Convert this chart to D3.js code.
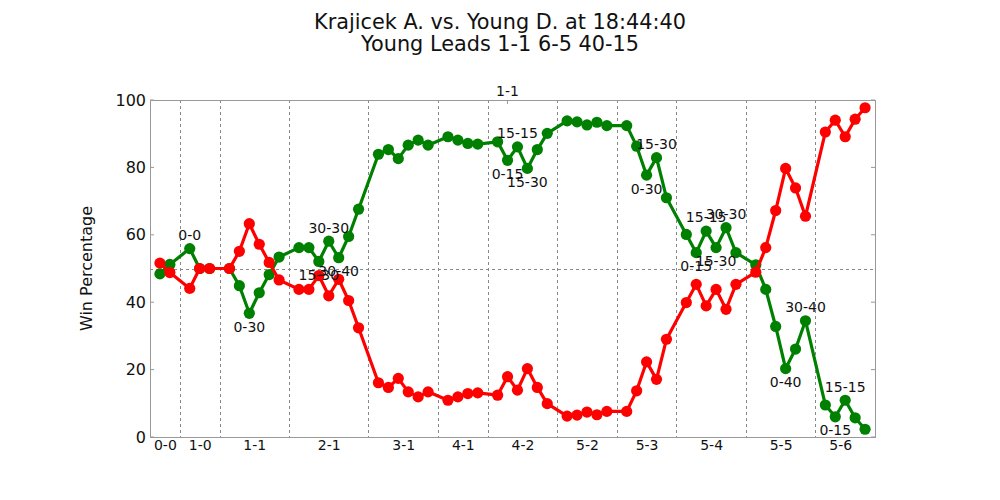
<!DOCTYPE html>
<html><head><meta charset="utf-8">
<script src="https://cdn.jsdelivr.net/npm/d3@7"></script>
<style>body{margin:0;background:#fff;} text{font-family:"DejaVu Sans",sans-serif;}</style>
</head><body><svg id="c" width="1000" height="500"></svg>
<script>
const titleLines = ["Krajicek A. vs. Young D. at 18:44:40", "Young Leads 1-1 6-5 40-15"];
const yLabel = "Win Percentage";
const pointIndex = [0,1,3,4,5,7,8,9,10,11,12,14,15,16,17,18,19,20,22,23,24,25,26,27,29,30,31,32,34,35,36,37,38,39,41,42,43,44,45,47,48,49,50,51,53,54,55,56,57,58,60,61,62,63,64,65,67,68,69,70,71];
const greenPct = [48.4,51.2,55.9,50,50,50,44.9,36.7,42.8,48.2,53.4,56.2,56.2,52.1,58.1,53.2,59.5,67.6,83.9,85.3,82.6,86.6,88.1,86.6,89.1,88.1,87.1,86.9,87.6,82.1,86.1,79.7,85.3,90.1,93.8,93.5,92.6,93.4,92.4,92.4,86.3,77.7,82.9,71,60.1,54.7,61.1,56.2,62.1,54.7,51.1,43.8,32.8,20.3,26.1,34.5,9.5,6.0,10.9,5.7,2.3];
const redPct = [51.6,48.8,44.1,50,50,50,55.1,63.3,57.2,51.8,46.6,43.8,43.8,47.9,41.9,46.8,40.5,32.4,16.1,14.7,17.4,13.4,11.9,13.4,10.9,11.9,12.9,13.1,12.4,17.9,13.9,20.3,14.7,9.9,6.2,6.5,7.4,6.6,7.6,7.6,13.7,22.3,17.1,29,39.9,45.3,38.9,43.8,37.9,45.3,48.9,56.2,67.2,79.7,73.9,65.5,90.5,94,89.1,94.3,97.7];
const gameBreaks = [2,6,13,21,28,33,40,46,52,59,66];
const gameLabels = ["0-0","1-0","1-1","2-1","3-1","4-1","4-2","5-2","5-3","5-4","5-5","5-6"];
const gameLabelPos = [0.5,4,9.5,17,24.5,30.5,36.5,43,49,55.5,62.5,68.5];
const yTicks = [0,20,40,60,80,100];
const setLabel = "1-1";
const setLabelPos = 35;
const annIndex = [3,9,17,16,18,36,35,37,50,49,55,57,54,56,65,63,69,68];
const annText = ["0-0","0-30","30-30","15-30","30-40","15-15","0-15","15-30","15-30","0-30","15-15","30-30","0-15","15-30","30-40","0-40","15-15","0-15"];
const annSide = [1,-1,1,-1,-1,1,-1,-1,1,-1,1,1,-1,-1,1,-1,1,-1];

const svg = d3.select("#c");
const L=150,R=875,T=100,B=437;
const x = d3.scaleLinear().domain([-1,72]).range([L,R]);
const y = d3.scaleLinear().domain([0,100]).range([B,T]);

svg.append("g").selectAll("text").data(titleLines).join("text")
  .attr("x",500).attr("y",(d,i)=>29+i*22).attr("text-anchor","middle")
  .attr("font-size",20.8).attr("fill","#111").text(d=>d);

const grid = svg.append("g").attr("stroke","#888").attr("stroke-width",1).attr("stroke-dasharray","3,3");
grid.selectAll("line.v").data(gameBreaks).join("line").attr("class","v")
  .attr("x1",d=>Math.round(x(d))+0.5).attr("x2",d=>Math.round(x(d))+0.5).attr("y1",T).attr("y2",B);
grid.append("line").attr("x1",L).attr("x2",R).attr("y1",Math.round(y(50))+0.5).attr("y2",Math.round(y(50))+0.5);

// frame
svg.append("rect").attr("x",L+0.5).attr("y",T+0.5).attr("width",R-L).attr("height",B-T)
  .attr("fill","none").attr("stroke","#999").attr("stroke-width",1);

// y axis
const ya = svg.append("g").attr("transform",`translate(${L},0)`)
  .call(d3.axisLeft(y).tickValues(yTicks).tickSize(0).tickPadding(4));
ya.select(".domain").remove();
ya.selectAll("text").attr("font-size",16).attr("fill","#111").attr("font-family","DejaVu Sans");
const yt = svg.append("g").attr("stroke","#999");
yt.selectAll("line.l").data(yTicks).join("line").attr("class","l")
  .attr("x1",L).attr("x2",L+4).attr("y1",d=>y(d)).attr("y2",d=>y(d));
yt.selectAll("line.r").data(yTicks).join("line").attr("class","r")
  .attr("x1",R-4).attr("x2",R).attr("y1",d=>y(d)).attr("y2",d=>y(d));

// x labels
const xa = svg.append("g").attr("transform",`translate(0,${B})`)
  .call(d3.axisBottom(x).tickValues(gameLabelPos).tickFormat((d,i)=>gameLabels[i]).tickSize(0).tickPadding(3));
xa.select(".domain").remove();
xa.selectAll("text").attr("font-size",14).attr("fill","#111").attr("font-family","DejaVu Sans");

// top set label
svg.append("line").attr("x1",x(setLabelPos)).attr("x2",x(setLabelPos)).attr("y1",T).attr("y2",T+4).attr("stroke","#999");
svg.append("text").attr("x",x(setLabelPos)).attr("y",T-4).attr("text-anchor","middle")
  .attr("font-size",14).attr("fill","#111").text(setLabel);

svg.append("text").attr("transform",`translate(92,${(T+B)/2}) rotate(-90)`).attr("text-anchor","middle")
  .attr("font-size",16).attr("fill","#111").text(yLabel);

function series(vals,color){
  const pts = pointIndex.map((p,i)=>[p,vals[i]]);
  svg.append("path").datum(pts).attr("fill","none").attr("stroke",color).attr("stroke-width",3.2)
    .attr("stroke-linejoin","round")
    .attr("d",d3.line().x(d=>x(d[0])).y(d=>y(d[1])));
  svg.append("g").selectAll("circle").data(pts).join("circle")
    .attr("cx",d=>x(d[0])).attr("cy",d=>y(d[1])).attr("r",5.6).attr("fill",color);
}
series(greenPct,"#008000");
series(redPct,"#ff0000");

svg.append("g").selectAll("text").data(annIndex).join("text")
  .attr("x",d=>x(d))
  .attr("y",(d,i)=>y(greenPct[pointIndex.indexOf(d)]) - annSide[i]*13.5)
  .attr("dy","0.35em").attr("text-anchor","middle").attr("font-size",14).attr("fill","#111")
  .text((d,i)=>annText[i]);
</script></body></html>
